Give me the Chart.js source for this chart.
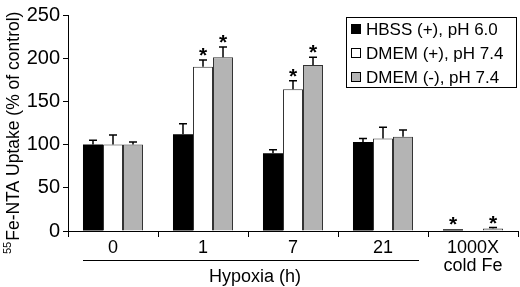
<!DOCTYPE html>
<html>
<head>
<meta charset="utf-8">
<script src="https://cdn.jsdelivr.net/npm/chart.js@4"></script>
<style>
  body { margin: 0; background: #fff; }
  #wrap { width: 520px; height: 287px; position: relative; }
</style>
</head>
<body>
<div id="wrap"><canvas id="chart"></canvas></div>
<script>
// values
const categories = ["0", "1", "7", "21", ["1000X", "cold Fe"]];
const seriesNames = ["HBSS (+), pH 6.0", "DMEM (+), pH 7.4", "DMEM (-), pH 7.4"];
const hbss = [100, 112, 90, 103, 2];
const dmemPlus = [100, 190, 164, 107, null];
const dmemMinus = [100, 201, 192, 109, 3];
const hbssErr = [5, 12, 4, 4, 0];
const dmemPlusErr = [11, 8, 10, 13, null];
const dmemMinusErr = [3, 12, 9, 8, 1];
const hbssStar = [0, 0, 0, 0, 1];
const dmemPlusStar = [0, 1, 1, 0, 0];
const dmemMinusStar = [0, 1, 1, 0, 1];
const yTicks = [0, 50, 100, 150, 200, 250];

const FONT = "'Liberation Sans', Arial, sans-serif";

const errs = [hbssErr, dmemPlusErr, dmemMinusErr];
const stars = [hbssStar, dmemPlusStar, dmemMinusStar];

// error bars, asterisks, legend box, y title, hypoxia bracket
const extras = {
  id: "extras",
  afterDatasetsDraw(chart) {
    const ctx = chart.ctx;
    const y = chart.scales.y;
    ctx.save();
    chart.data.datasets.forEach((ds, i) => {
      const meta = chart.getDatasetMeta(i);
      meta.data.forEach((bar, j) => {
        const v = ds.data[j];
        if (v == null) return;
        const e = errs[i][j];
        let top = bar.y;
        if (e) {
          top = y.getPixelForValue(v + e);
          ctx.strokeStyle = "#000";
          ctx.lineWidth = 1.5;
          ctx.beginPath();
          ctx.moveTo(bar.x, bar.y);
          ctx.lineTo(bar.x, top);
          ctx.moveTo(bar.x - 4, top);
          ctx.lineTo(bar.x + 4, top);
          ctx.stroke();
        }
        if (stars[i][j]) {
          ctx.fillStyle = "#000";
          ctx.font = "bold 21px " + FONT;
          ctx.textAlign = "center";
          ctx.textBaseline = "alphabetic";
          ctx.fillText("*", bar.x, top + 2);
        }
      });
    });
    ctx.restore();
  },
  afterDraw(chart) {
    const ctx = chart.ctx;
    ctx.save();
    // legend
    ctx.strokeStyle = "#000";
    ctx.lineWidth = 1;
    ctx.strokeRect(346.5, 17.5, 170, 70);
    ctx.font = "17px " + FONT;
    ctx.textBaseline = "middle";
    ctx.textAlign = "left";
    chart.data.datasets.forEach((ds, i) => {
      const cy = 29 + i * 24;
      ctx.fillStyle = ds.backgroundColor;
      ctx.fillRect(351, cy - 5, 10, 10);
      ctx.strokeStyle = "#000";
      ctx.strokeRect(351.5, cy - 4.5, 9, 9);
      ctx.fillStyle = "#000";
      ctx.fillText(ds.label, 366, cy + 1);
    });
    // y title with superscript
    ctx.translate(19, 254);
    ctx.rotate(-Math.PI / 2);
    ctx.textBaseline = "alphabetic";
    ctx.font = "11px " + FONT;
    ctx.fillText("55", 0, -8);
    const w = ctx.measureText("55").width;
    ctx.font = "17.5px " + FONT;
    ctx.fillText("Fe-NTA Uptake (% of control)", w + 1, 0);
    ctx.setTransform(1, 0, 0, 1, 0, 0);
    // hypoxia bracket
    ctx.strokeStyle = "#000";
    ctx.lineWidth = 1.2;
    ctx.beginPath();
    ctx.moveTo(83, 260.5);
    ctx.lineTo(419, 260.5);
    ctx.stroke();
    ctx.fillStyle = "#000";
    ctx.font = "18px " + FONT;
    ctx.textAlign = "center";
    ctx.textBaseline = "middle";
    ctx.fillText("Hypoxia (h)", 255, 277);
    ctx.restore();
  }
};

new Chart(document.getElementById("chart"), {
  type: "bar",
  data: {
    labels: categories,
    datasets: [
      { label: seriesNames[0], data: hbss, backgroundColor: "#000000", borderColor: "#000", borderWidth: 0 },
      { label: seriesNames[1], data: dmemPlus, backgroundColor: "#ffffff", borderColor: "#333", borderWidth: 1 },
      { label: seriesNames[2], data: dmemMinus, backgroundColor: "#b4b4b4", borderColor: "#333", borderWidth: 1 },
    ],
  },
  plugins: [extras],
  options: {
    responsive: true,
    maintainAspectRatio: false,
    animation: false,
    layout: { padding: { left: 0, right: 2, top: 11, bottom: 0 } },
    datasets: { bar: { categoryPercentage: 0.667, barPercentage: 1 } },
    plugins: {
      legend: { display: false },
      tooltip: { enabled: false },
    },
    scales: {
      x: {
        afterFit: (s) => { s.height = 56; },
        grid: { drawOnChartArea: false, drawTicks: true, tickLength: 6, color: "#000", offset: true },
        border: { color: "#000", width: 1 },
        ticks: { color: "#000", padding: 2, font: { family: FONT, size: 18, lineHeight: 1.0 }, maxRotation: 0 },
      },
      y: {
        min: 0,
        max: 250,
        afterFit: (s) => { s.width = 68; },
        afterBuildTicks: (s) => { s.ticks = yTicks.map((v) => ({ value: v })); },
        grid: { drawOnChartArea: false, drawTicks: true, tickLength: 5, color: "#000" },
        border: { color: "#000", width: 1 },
        ticks: { color: "#000", padding: 3, font: { family: FONT, size: 20 } },
      },
    },
  },
});
</script>
</body>
</html>
